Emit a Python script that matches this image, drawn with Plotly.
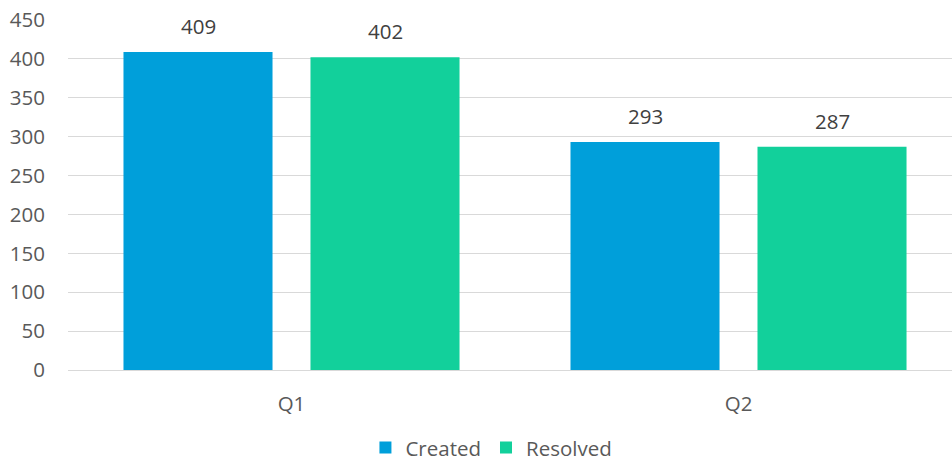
import plotly.graph_objects as go

categories = ["Q1", "Q2"]
created = [409, 293]
resolved = [402, 287]
series_names = ["Created", "Resolved"]
colors = ["#009FDA", "#12D09B"]
y_ticks = [0, 50, 100, 150, 200, 250, 300, 350, 400, 450]

FONT = "Open Sans"
FS = 20.5
fig = go.Figure()
for name, vals, col in zip(series_names, [created, resolved], colors):
    fig.add_trace(go.Bar(name=name, x=categories, y=vals, marker=dict(color=col, line=dict(width=0))))

shift = 93.5
for sign, vals in zip([-1, 1], [created, resolved]):
    for c, v in zip(categories, vals):
        fig.add_annotation(x=c, y=v, text=str(v), showarrow=False, xshift=sign * shift, yshift=26,
                           font=dict(family=FONT, size=FS, color="#404040"))

fig.update_layout(
    width=952, height=463,
    margin=dict(l=68, r=0, t=20, b=93, autoexpand=False),
    paper_bgcolor="white", plot_bgcolor="white",
    barmode="group", bargap=0.1633, bargroupgap=0.203,
    font=dict(family=FONT, size=FS, color="#595959"),
    showlegend=True,
    legend=dict(orientation="h", x=0.479, xanchor="center", y=-0.222, yanchor="middle",
                font=dict(family=FONT, size=FS, color="#595959"), itemwidth=30,
                traceorder="normal"),
    xaxis=dict(range=[-0.5, 1.4776], showgrid=False, showline=False, ticks="", automargin=False,
               ticklabelstandoff=19, tickfont=dict(family=FONT, size=FS, color="#595959")),
    yaxis=dict(range=[0, 450], tickvals=y_ticks, showgrid=True, gridcolor="#D9D9D9", gridwidth=1.3,
               zeroline=True, zerolinecolor="#D9D9D9", zerolinewidth=1.3, showline=False, automargin=False,
               ticklabelstandoff=22, tickfont=dict(family=FONT, size=FS, color="#595959")),
)
fig.write_html("out.html")
